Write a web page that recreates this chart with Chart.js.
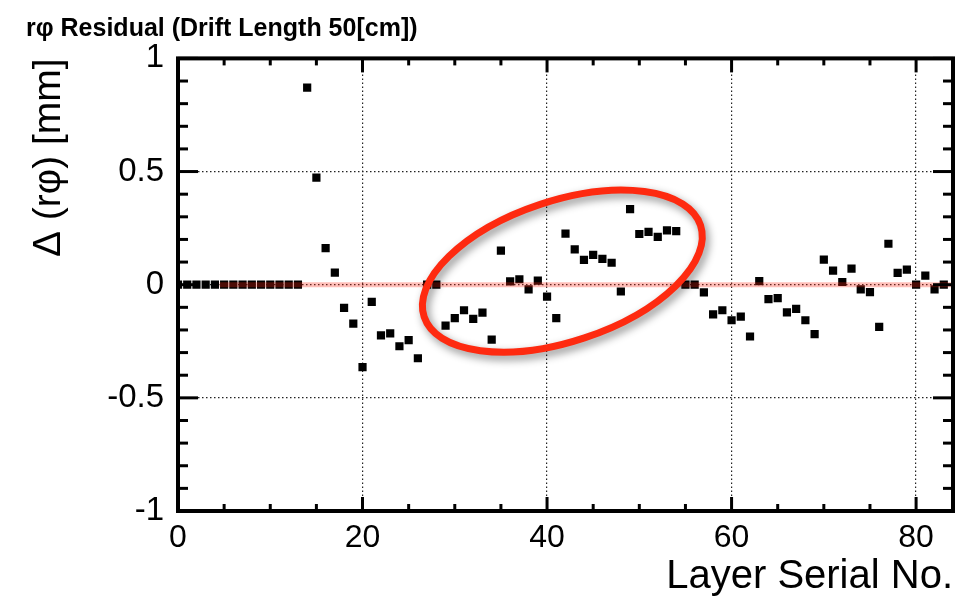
<!DOCTYPE html>
<html><head><meta charset="utf-8">
<script src="https://cdn.jsdelivr.net/npm/chart.js@4.4.0/dist/chart.umd.min.js"></script>
<style>html,body{margin:0;padding:0;background:#fff}#wrap{width:963px;height:597px}</style>
</head><body><div id="wrap"><canvas id="c" width="963" height="597"></canvas></div>
<script>
const layers = [0,1,2,3,4,5,6,7,8,9,10,11,12,13,14,15,16,17,18,19,20,21,22,23,24,25,26,27,28,29,30,31,32,33,34,35,36,37,38,39,40,41,42,43,44,45,46,47,48,49,50,51,52,53,54,55,56,57,58,59,60,61,62,63,64,65,66,67,68,69,70,71,72,73,74,75,76,77,78,79,80,81,82,83];
const residuals = [0,0,0,0,0,0,0,0,0,0,0,0,0,0,
  0.871,0.473,0.162,0.053,-0.102,-0.172,-0.364,-0.076,-0.224,-0.215,-0.272,-0.245,-0.325,0,0,
  -0.181,-0.148,-0.113,-0.151,-0.123,-0.243,0.151,0.015,0.024,-0.021,0.018,-0.053,-0.148,
  0.226,0.156,0.110,0.132,0.114,0.097,-0.030,0.334,0.224,0.233,0.211,0.240,0.237,0,0,
  -0.034,-0.131,-0.113,-0.157,-0.141,-0.229,0.016,-0.064,-0.059,-0.122,-0.107,-0.157,-0.218,
  0.111,0.062,0.012,0.071,-0.021,-0.033,-0.186,0.181,0.052,0.067,0,0.040,-0.021,0];
const xTickValues = [0,20,40,60,80];
const xTickLabels = ['0','20','40','60','80'];
const yTickValues = [-1,-0.5,0,0.5,1];
const yTickLabels = ['-1','-0.5','0','0.5','1'];
const refLineX = [4.5, 84];
const refLineY = [0, 0];
const ellipseNote = {cx: 41.66, cy: 0.06, a: 15.78, b: 7.62, angleDeg: -18.35};

const FONT = "'Liberation Sans', Arial, Helvetica, sans-serif";

const framePlugin = {
  id: 'frame',
  afterDraw(chart) {
    const {ctx, chartArea: {left, right, top, bottom}, scales: {x, y}} = chart;
    ctx.save();
    ctx.strokeStyle = '#000';
    ctx.lineCap = 'butt';
    const line = (a, b, c, d) => { ctx.beginPath(); ctx.moveTo(a, b); ctx.lineTo(c, d); ctx.stroke(); };
    ctx.lineWidth = 3;
    for (let v = x.min; v <= x.max; v += 5) {
      const px = x.getPixelForValue(v);
      const L = v % 20 === 0 ? 14 : 7;
      line(px, bottom, px, bottom - L);
      line(px, top, px, top + L);
    }
    for (let k = -10; k <= 10; k++) {
      const py = y.getPixelForValue(k / 10);
      const L = k % 5 === 0 ? 20 : 10;
      line(left, py, left + L, py);
      line(right, py, right - L, py);
    }
    ctx.lineWidth = 4;
    ctx.strokeRect(left, top, right - left, bottom - top);
    ctx.restore();
  }
};

const ellipsePlugin = {
  id: 'ellipseNote',
  afterDatasetsDraw(chart) {
    const {ctx, scales: {x, y}} = chart;
    const e = ellipseNote;
    const k = x.getPixelForValue(1) - x.getPixelForValue(0);
    ctx.save();
    ctx.translate(x.getPixelForValue(e.cx), y.getPixelForValue(e.cy));
    ctx.rotate(e.angleDeg * Math.PI / 180);
    ctx.beginPath();
    ctx.ellipse(0, 0, e.a * k, e.b * k, 0, 0, 2 * Math.PI);
    ctx.strokeStyle = '#fe2a10';
    ctx.lineWidth = 7;
    ctx.shadowColor = 'rgba(0,0,0,0.45)';
    ctx.shadowBlur = 8;
    ctx.shadowOffsetX = 3;
    ctx.shadowOffsetY = 4;
    ctx.stroke();
    ctx.restore();
  }
};

const gridColor = (skip) => (ctx) => {
  if (!ctx.tick) return 'rgba(0,0,0,0)';
  return skip.includes(ctx.tick.value) ? 'rgba(0,0,0,0)' : '#222';
};

new Chart(document.getElementById('c'), {
  type: 'scatter',
  data: {
    datasets: [
      {
        label: 'ref',
        type: 'line',
        data: refLineX.map((xv, i) => ({x: xv, y: refLineY[i]})),
        borderColor: 'rgba(255,40,20,0.3)',
        borderWidth: 5,
        pointRadius: 0,
        order: 0
      },
      {
        label: 'residual',
        data: layers.map((xv, i) => ({x: xv, y: residuals[i]})),
        pointStyle: 'rect',
        pointRadius: 5.8,
        backgroundColor: '#000',
        borderColor: '#000',
        borderWidth: 0,
        order: 1
      }
    ]
  },
  options: {
    responsive: false,
    devicePixelRatio: 1,
    animation: false,
    layout: {padding: {left: 26, right: 10, top: 0, bottom: 0}},
    plugins: {
      legend: {display: false},
      tooltip: {enabled: false},
      title: {
        display: true,
        text: 'rφ Residual (Drift Length 50[cm])',
        align: 'start',
        color: '#000',
        font: {family: FONT, size: 25, weight: 'bold', lineHeight: 1.2},
        padding: {top: 14, bottom: 14.4}
      }
    },
    scales: {
      x: {
        type: 'linear',
        position: 'bottom',
        min: 0, max: 84,
        ticks: {
          stepSize: 20, includeBounds: false, autoSkip: false, maxRotation: 0,
          color: '#000', padding: 8,
          font: {family: FONT, size: 32, lineHeight: 1.2},
          callback: (v) => { const i = xTickValues.indexOf(v); return i >= 0 ? xTickLabels[i] : ''; }
        },
        grid: {drawTicks: false, lineWidth: 1.2, color: gridColor([0, 84])},
        border: {display: false, dash: [1.5, 2.5]},
        title: {display: true, text: 'Layer Serial No.', align: 'end', color: '#000',
          font: {family: FONT, size: 40, lineHeight: 1}, padding: {top: 0, bottom: 0}},
        afterFit: (s) => { s.height = 86; }
      },
      y: {
        type: 'linear',
        min: -1, max: 1,
        ticks: {
          stepSize: 0.5, includeBounds: false, autoSkip: false,
          color: '#000', padding: 14,
          font: {family: FONT, size: 33, lineHeight: 1.2},
          callback: (v) => { const i = yTickValues.indexOf(v); return i >= 0 ? yTickLabels[i] : ''; }
        },
        grid: {drawTicks: false, lineWidth: 1.2, color: gridColor([-1, 1])},
        border: {display: false, dash: [1.5, 2.5]},
        title: {display: true, text: 'Δ (rφ) [mm]', align: 'end', color: '#000',
          font: {family: FONT, size: 39, lineHeight: 1}, padding: {top: 4, bottom: 0}},
        afterFit: (s) => { s.width = 152; }
      }
    }
  },
  plugins: [ellipsePlugin, framePlugin]
});
</script></body></html>
